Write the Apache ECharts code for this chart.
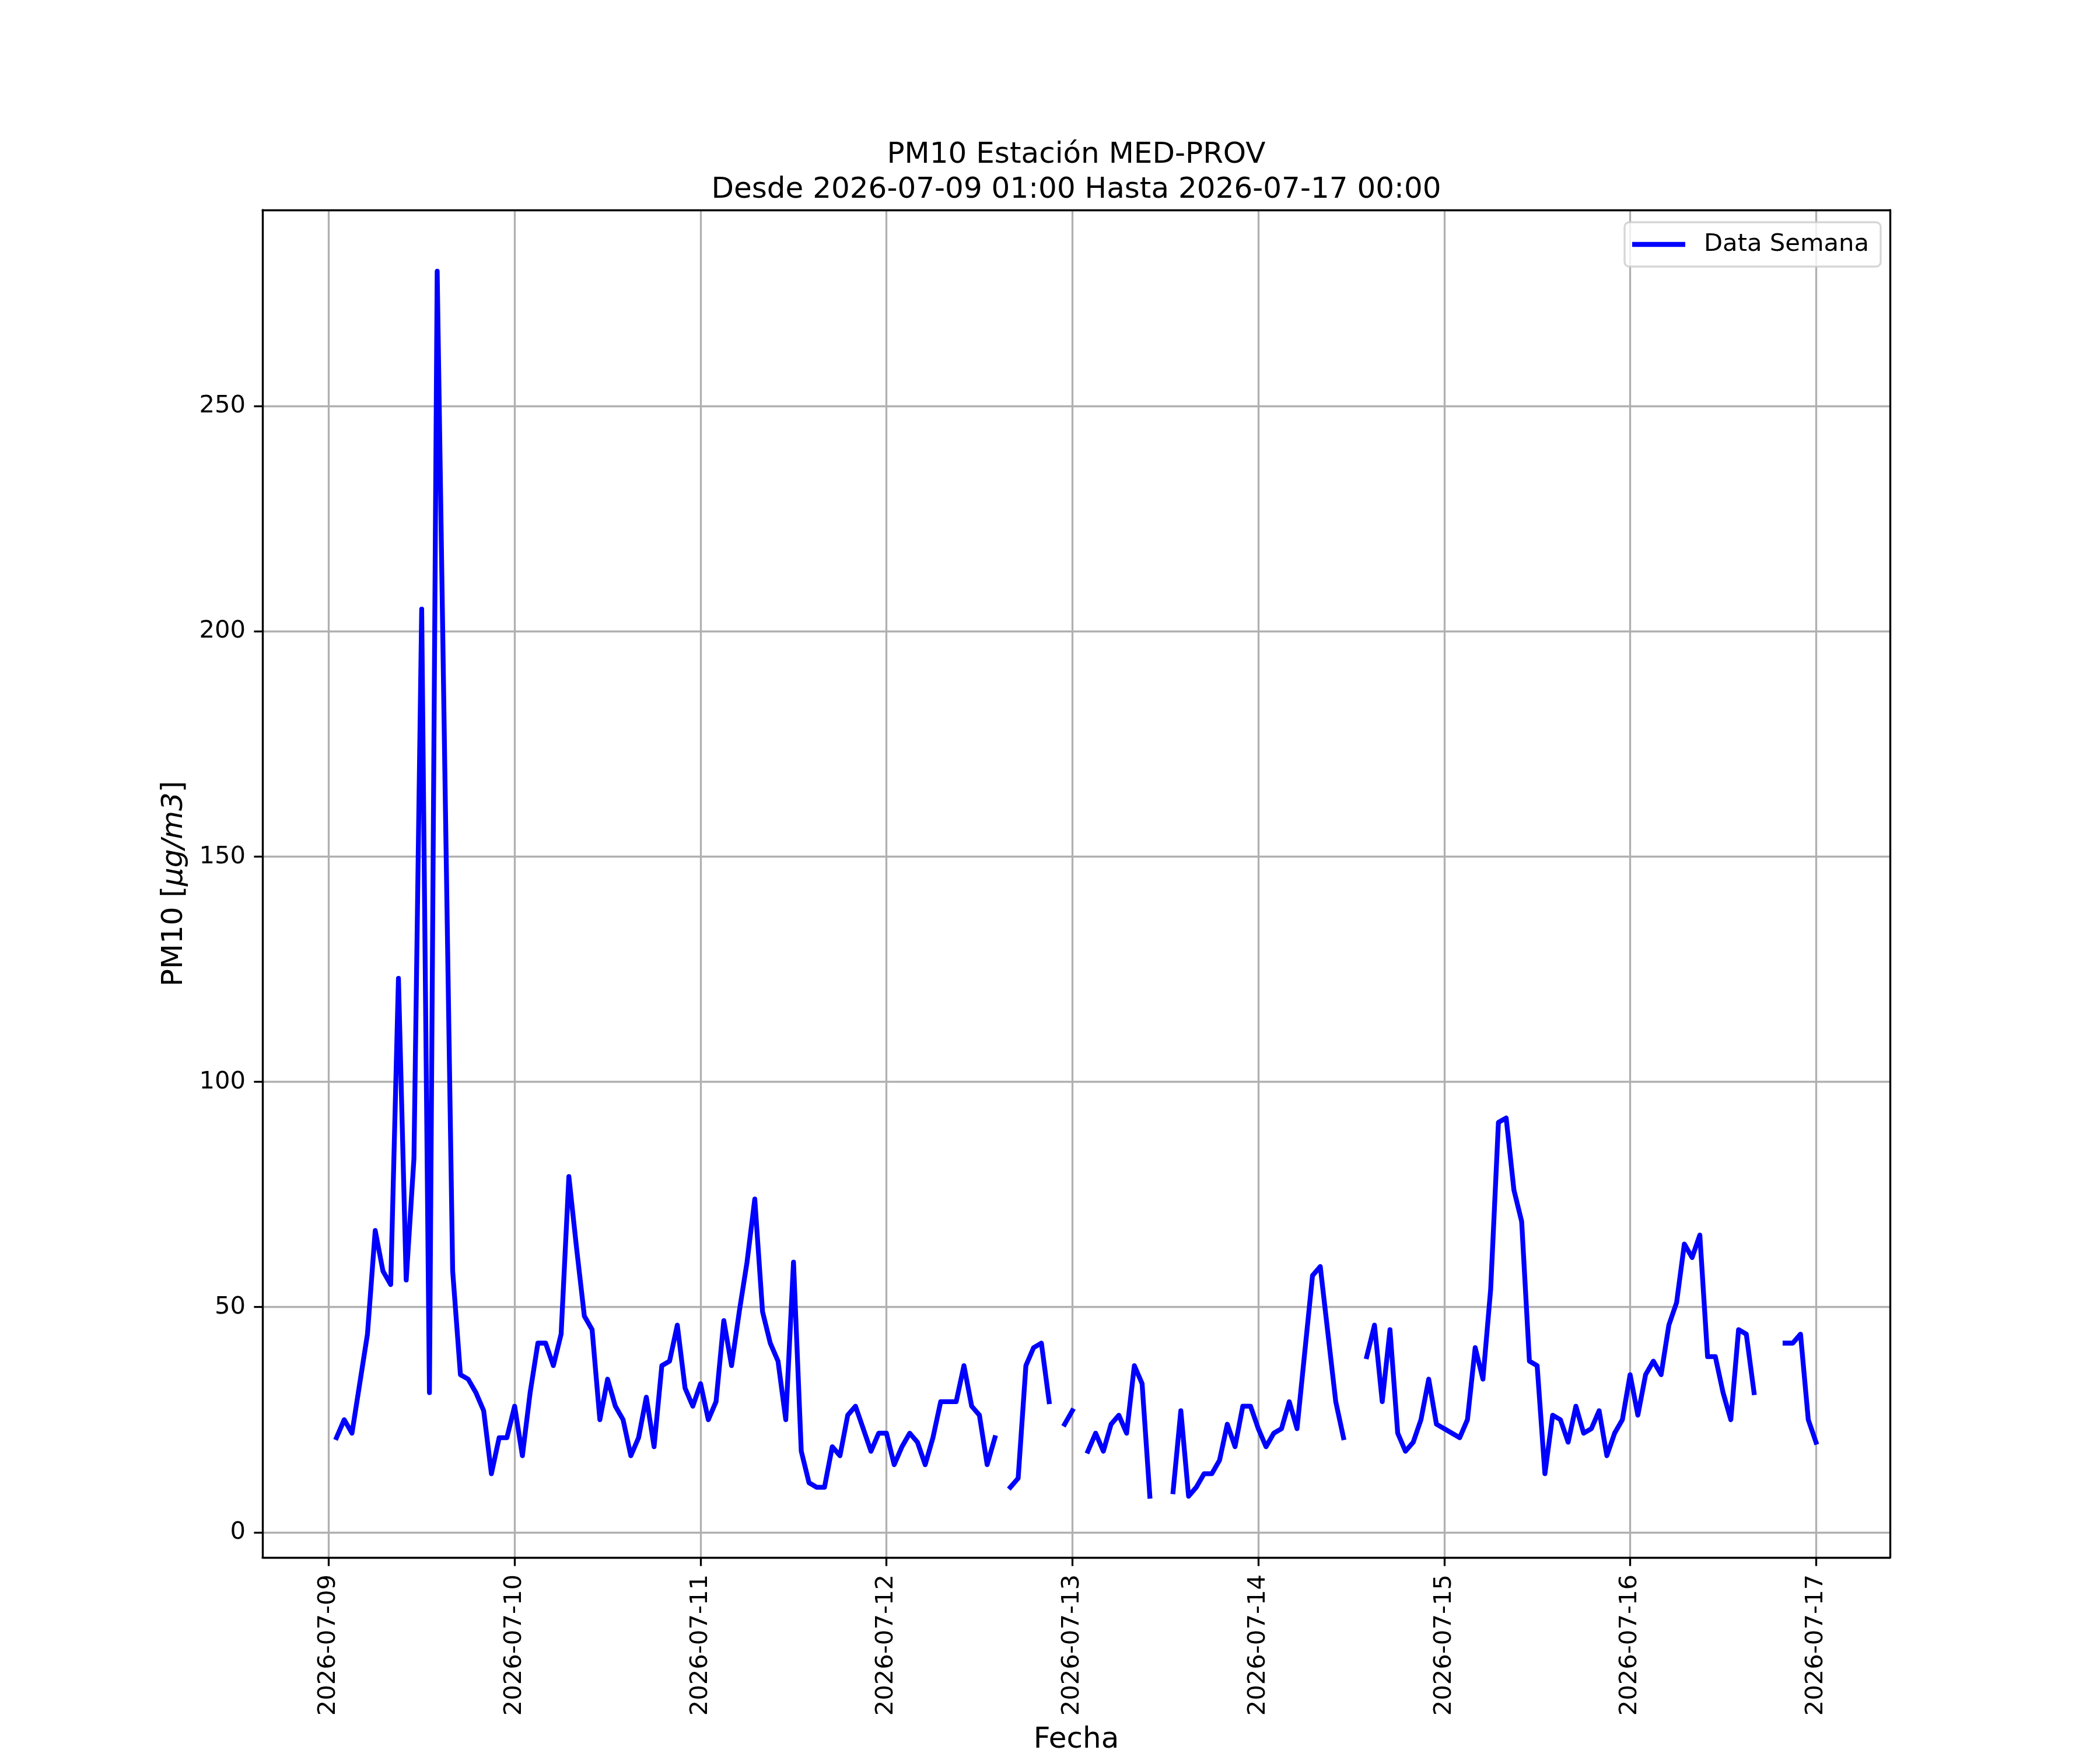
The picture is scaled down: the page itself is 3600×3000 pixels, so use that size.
<!DOCTYPE html>
<html>
<head>
<meta charset="utf-8">
<script src="https://cdn.jsdelivr.net/npm/echarts@6/dist/echarts.min.js"></script>
<style>
  html, body { margin: 0; padding: 0; background: #fff; }
  #chart { width: 3600px; height: 3000px; }
</style>
</head>
<body>
<div id="chart"></div>
<script>
// PM10 horario, estación MED-PROV. Cada día: 01:00 ... 00:00 del día siguiente (null = sin dato)
const START = new Date(2026, 6, 9, 1, 0, 0).getTime(); // 2026-07-09 01:00
const HOUR = 3600 * 1000;

const pm10Jul09 = [21, 25, 22, 33, 44, 67, 58, 55, 123, 56, 83, 205, 31, 280, 168, 58, 35, 34, 31, 27, 13, 21, 21, 28];
const pm10Jul10 = [17, 31, 42, 42, 37, 44, 79, 63, 48, 45, 25, 34, 28, 25, 17, 21, 30, 19, 37, 38, 46, 32, 28, 33];
const pm10Jul11 = [25, 29, 47, 37, 49, 60, 74, 49, 42, 38, 25, 60, 18, 11, 10, 10, 19, 17, 26, 28, 23, 18, 22, 22];
const pm10Jul12 = [15, 19, 22, 20, 15, 21, 29, 29, 29, 37, 28, 26, 15, 21, null, 10, 12, 37, 41, 42, 29, null, 24, 27];
const pm10Jul13 = [null, 18, 22, 18, 24, 26, 22, 37, 33, 8, null, null, 9, 27, 8, 10, 13, 13, 16, 24, 19, 28, 28, 23];
const pm10Jul14 = [19, 22, 23, 29, 23, 40, 57, 59, 44, 29, 21, null, null, 39, 46, 29, 45, 22, 18, 20, 25, 34, 24, 23];
const pm10Jul15 = [22, 21, 25, 41, 34, 54, 91, 92, 76, 69, 38, 37, 13, 26, 25, 20, 28, 22, 23, 27, 17, 22, 25, 35];
const pm10Jul16 = [26, 35, 38, 35, 46, 51, 64, 61, 66, 39, 39, 31, 25, 45, 44, 31, null, null, null, 42, 42, 44, 25, 20];

// marcas del eje Y
const Y_TICKS = [0, 50, 100, 150, 200, 250];

const values = [].concat(pm10Jul09, pm10Jul10, pm10Jul11, pm10Jul12,
                         pm10Jul13, pm10Jul14, pm10Jul15, pm10Jul16);
const seriesData = values.map((v, i) => [START + i * HOUR, v == null ? '-' : v]);

// márgenes automáticos al estilo matplotlib (5 %)
const tEnd = START + (values.length - 1) * HOUR;
const xPad = (tEnd - START) * 0.05;
const nums = values.filter((v) => v != null);
const vMin = Math.min(...nums), vMax = Math.max(...nums);
const yPad = (vMax - vMin) * 0.05;
const X_MIN = START - xPad, X_MAX = tEnd + xPad;
const Y_MIN = vMin - yPad, Y_MAX = vMax + yPad;

const FONT = 'DejaVu Sans';
const pad2 = (n) => (n < 10 ? '0' : '') + n;
function fmtDay(value) {
  const d = new Date(value);
  return d.getFullYear() + '-' + pad2(d.getMonth() + 1) + '-' + pad2(d.getDate());
}

const spine = { show: true, onZero: false, lineStyle: { color: '#000', width: 3.3 } };
const tick = { show: true, length: 14.6, lineStyle: { color: '#000', width: 3.3 } };
const grid = { show: true, lineStyle: { color: '#b0b0b0', width: 3.3 } };

const chart = echarts.init(document.getElementById('chart'), null, { renderer: 'canvas' });
chart.setOption({
  animation: false,
  backgroundColor: '#ffffff',
  title: {
    text: 'PM10 Estación MED-PROV\nDesde 2026-07-09 01:00 Hasta 2026-07-17 00:00',
    left: 1845,
    top: 236,
    padding: 0,
    textAlign: 'center',
    textStyle: { fontFamily: FONT, fontSize: 50, fontWeight: 'normal', color: '#000', lineHeight: 60 },
  },
  legend: {
    left: 2785,
    top: 381,
    padding: [15, 20, 15, 13],
    backgroundColor: 'rgba(255,255,255,0.8)',
    borderColor: 'rgba(204,204,204,0.8)',
    borderWidth: 3.3,
    borderRadius: 8,
    icon: 'rect',
    itemWidth: 91,
    itemHeight: 8.3,
    textStyle: { fontFamily: FONT, fontSize: 41.7, color: '#000', lineHeight: 46, padding: [0, 0, 0, 27] },
    data: ['Data Semana'],
  },
  grid: {
    left: 450, right: 360, top: 360, bottom: 330,
    containLabel: false, outerBoundsMode: 'none',
  },
  xAxis: [
    {
      type: 'time',
      min: X_MIN,
      max: X_MAX,
      splitNumber: 8,
      minInterval: 24 * HOUR,
      maxInterval: 24 * HOUR,
      axisLine: spine,
      axisTick: tick,
      axisLabel: {
        rotate: 90, margin: 29, fontFamily: FONT, fontSize: 41.7, color: '#000',
        showMinLabel: false, showMaxLabel: false, hideOverlap: false,
        formatter: fmtDay,
      },
      splitLine: grid,
      name: 'Fecha',
      nameLocation: 'middle',
      nameGap: 288,
      nameTextStyle: { fontFamily: FONT, fontSize: 50, color: '#000' },
    },
    {
      type: 'time', position: 'top', min: X_MIN, max: X_MAX,
      axisLine: spine, axisTick: { show: false }, axisLabel: { show: false }, splitLine: { show: false },
    },
  ],
  yAxis: [
    {
      type: 'value',
      min: Y_MIN,
      max: Y_MAX,
      splitNumber: 6,
      axisLine: spine,
      axisTick: Object.assign({ customValues: Y_TICKS }, tick),
      axisLabel: {
        customValues: Y_TICKS,
        margin: 29, fontFamily: FONT, fontSize: 41.7, color: '#000',
      },
      splitLine: grid,
      name: 'PM10 [{i|μg/m3}]',
      nameLocation: 'middle',
      nameGap: 126,
      nameRotate: 90,
      nameTextStyle: {
        fontFamily: FONT, fontSize: 50, color: '#000',
        rich: { i: { fontFamily: FONT, fontSize: 50, fontStyle: 'italic', color: '#000' } },
      },
    },
    {
      type: 'value', position: 'right', min: Y_MIN, max: Y_MAX,
      axisLine: spine, axisTick: { show: false }, axisLabel: { show: false }, splitLine: { show: false },
    },
  ],
  series: [
    {
      name: 'Data Semana',
      type: 'line',
      data: seriesData,
      symbol: 'none',
      showSymbol: false,
      connectNulls: false,
      lineStyle: { color: '#0000ff', width: 8.3, cap: 'square', join: 'round' },
      itemStyle: { color: '#0000ff' },
    },
  ],
});
</script>
</body>
</html>
